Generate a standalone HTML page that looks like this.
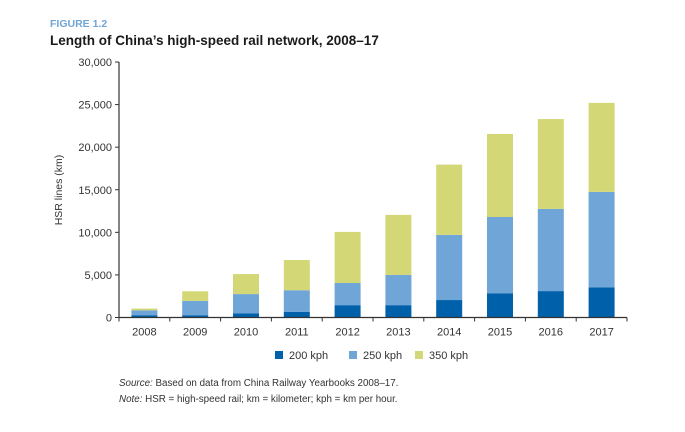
<!DOCTYPE html>
<html><head><meta charset="utf-8"><style>
body{margin:0;background:#fff;width:685px;height:427px;overflow:hidden;font-family:"Liberation Sans",sans-serif;}
svg text{font-family:"Liberation Sans",sans-serif;}
</style></head><body>
<svg width="685" height="427">
<text x="50" y="27" font-size="10.5" font-weight="bold" fill="#6fa5d7">FIGURE 1.2</text>
<text x="50" y="45" font-size="13.5" font-weight="bold" fill="#1a1a1a">Length of China’s high-speed rail network, 2008–17</text>
<g id="plot"></g>
<text transform="translate(62,190) rotate(-90)" text-anchor="middle" font-size="10.5" fill="#333">HSR lines (km)</text>
<g>
<rect x="275" y="351" width="8" height="8" fill="#0060aa"/>
<text x="289" y="359" font-size="11" fill="#333">200 kph</text>
<rect x="349" y="351" width="8" height="8" fill="#6fa5d7"/>
<text x="363" y="359" font-size="11" fill="#333">250 kph</text>
<rect x="415" y="351" width="8" height="8" fill="#d3d775"/>
<text x="429" y="359" font-size="11" fill="#333">350 kph</text>
</g>
<text x="119" y="386" font-size="9.8" fill="#333"><tspan font-style="italic">Source:</tspan> Based on data from China Railway Yearbooks 2008–17.</text>
<text x="119" y="402" font-size="9.8" fill="#333"><tspan font-style="italic">Note:</tspan> HSR = high-speed rail; km = kilometer; kph = km per hour.</text>
</svg>
<script>
const categories=["2008","2009","2010","2011","2012","2013","2014","2015","2016","2017"];
const s200=[270,270,500,650,1450,1450,2050,2850,3100,3550];
const s250=[580,1680,2250,2550,2600,3550,7650,8950,9650,11200];
const s350=[200,1130,2350,3550,6000,7050,8250,9750,10550,10450];
const yTicks=[0,5000,10000,15000,20000,25000,30000];
const yTickLabels=["0","5,000","10,000","15,000","20,000","25,000","30,000"];
const NS="http://www.w3.org/2000/svg";
const g=document.getElementById('plot');
const x0=119,x1=627,y0=317.5,y1=62;
const yS=v=>y0-(v/30000)*(y0-y1);
const bw=(x1-x0)/categories.length;
const xC=i=>x0+bw*(i+0.5);
function mk(t,a){const e=document.createElementNS(NS,t);for(const k in a)e.setAttribute(k,a[k]);g.appendChild(e);return e;}
const series=[[s200,"#0060aa","200"],[s250,"#6fa5d7","250"],[s350,"#d3d775","350"]];
categories.forEach((c,i)=>{
  let base=0;
  series.forEach(([arr,col,nm])=>{
    const v=arr[i];
    const r=mk('rect',{x:xC(i)-13,y:yS(base+v),width:26,height:yS(base)-yS(base+v),fill:col});
    
    
    base+=v;
  });
  const t=mk('text',{x:xC(i),y:y0+18,'text-anchor':'middle','font-size':'11',fill:'#333'});
  t.textContent=c;
  
  
});
for(let i=0;i<=categories.length;i++){
  const tk=mk('line',{x1:x0+bw*i,x2:x0+bw*i,y1:y0,y2:y0+4,stroke:'#333','stroke-width':1});
  
  
}
yTicks.forEach((v,i)=>{
  const l=mk('line',{x1:x0-4,x2:x0,y1:yS(v),y2:yS(v),stroke:'#333','stroke-width':1});
  
  
  const t=mk('text',{x:x0-7,y:yS(v)+4,'text-anchor':'end','font-size':'11',fill:'#333'});
  t.textContent=yTickLabels[i];
  
  
});
const ya=mk('line',{x1:x0,x2:x0,y1:y1,y2:y0,stroke:'#333','stroke-width':1.2});


const xa=mk('line',{x1:x0,x2:x1,y1:y0,y2:y0,stroke:'#333','stroke-width':1.2});


</script>
</body></html>
